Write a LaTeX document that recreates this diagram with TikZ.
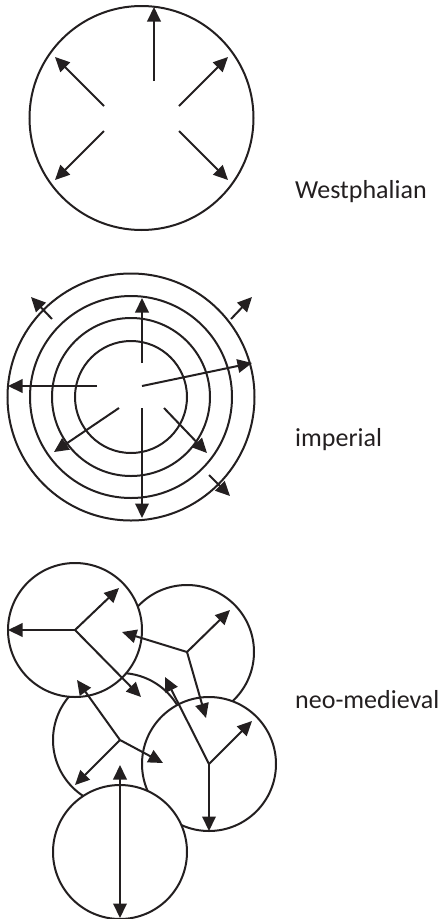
\documentclass[tikz,border=0pt]{standalone}
\usepackage{fontspec}
\setmainfont{Carlito}
\usetikzlibrary{arrows.meta}
\definecolor{ink}{HTML}{231F20}
\begin{document}
\begin{tikzpicture}[x=1pt,y=-1pt,
  ring/.style={draw=ink, line width=2pt, circle, inner sep=0pt},
  disc/.style={draw=ink, fill=white, line width=2pt, circle, inner sep=0pt, minimum size=134pt},
  arr/.style={-{Triangle[length=14.5pt,width=13.5pt]}, line width=2pt, draw=ink},
  darr/.style={{Triangle[length=14.5pt,width=13.5pt]}-{Triangle[length=14.5pt,width=13.5pt]}, line width=2pt, draw=ink},
  lbl/.style={anchor=base west, inner sep=0pt, font=\fontsize{26}{31}\selectfont, text=ink}]
\useasboundingbox (0,0) rectangle (445,919);

% ---------- Westphalian ----------
\node[ring, minimum size=224pt] (W) at (141.5,118) {};
\coordinate (w1s) at (154,81);  \coordinate (w1e) at (154,7);
\coordinate (w2s) at (104,106); \coordinate (w2e) at (55,57);
\coordinate (w3s) at (179,106); \coordinate (w3e) at (228,57);
\coordinate (w4s) at (104,131); \coordinate (w4e) at (55,180);
\coordinate (w5s) at (179,131); \coordinate (w5e) at (228,180);
\draw[arr] (w1s) -- (w1e);
\draw[arr] (w2s) -- (w2e);
\draw[arr] (w3s) -- (w3e);
\draw[arr] (w4s) -- (w4e);
\draw[arr] (w5s) -- (w5e);
\node[lbl] (tW) at (295,198) {Westphalian};

% ---------- imperial ----------
\node[ring, minimum size=247pt] (I1) at (131,397) {};
\node[ring, minimum size=202pt] (I2) at (131,397) {};
\node[ring, minimum size=158pt] (I3) at (131,397) {};
\node[ring, minimum size=112pt] (I4) at (131,397) {};
\coordinate (i1s) at (142,363); \coordinate (i1e) at (142,298);
\coordinate (i2s) at (97,386);  \coordinate (i2e) at (8,386);
\coordinate (i3s) at (142,386); \coordinate (i3e) at (252,363);
\coordinate (i4s) at (119,408); \coordinate (i4e) at (54,452);
\coordinate (i5s) at (142,408); \coordinate (i5e) at (142,518);
\coordinate (i6s) at (164,408); \coordinate (i6e) at (207,453);
\coordinate (i7s) at (52,319);  \coordinate (i7e) at (31,297);
\coordinate (i8s) at (231,319); \coordinate (i8e) at (252,297);
\coordinate (i9s) at (209,475); \coordinate (i9e) at (230,496);
\foreach \k in {1,...,9} {\draw[arr] (i\k s) -- (i\k e);}
\node[lbl] (tI) at (295,446) {imperial};

% ---------- neo-medieval ----------
\node[disc] (B) at (187,652) {};
\node[disc] (C) at (120,740) {};
\node[disc] (D) at (209,764) {};
\node[disc] (A) at (75,630) {};
\node[disc] (E) at (120,852) {};
% arrows from A
\coordinate (a1) at (8,630);   \coordinate (a2) at (119,588); \coordinate (a3) at (141,697);
\draw[arr] (A.center) -- (a1);
\draw[arr] (A.center) -- (a2);
\draw[arr] (A.center) -- (a3);
% arrows from B
\coordinate (b1) at (122,632); \coordinate (b2) at (230,610); \coordinate (b3) at (206,718);
\draw[arr] (B.center) -- (b1);
\draw[arr] (B.center) -- (b2);
\draw[arr] (B.center) -- (b3);
% arrows from C
\coordinate (c1) at (77,680);  \coordinate (c2) at (75,785);  \coordinate (c3) at (163,763);
\draw[arr] (C.center) -- (c1);
\draw[arr] (C.center) -- (c2);
\draw[arr] (C.center) -- (c3);
% arrows from D
\coordinate (d1) at (165,677); \coordinate (d2) at (252,721); \coordinate (d3) at (209,831);
\draw[arr] (D.center) -- (d1);
\draw[arr] (D.center) -- (d2);
\draw[arr] (D.center) -- (d3);
% arrow in E
\coordinate (e1) at (120,765); \coordinate (e2) at (120,918);
\draw[darr] (e1) -- (e2);
\node[lbl] (tN) at (295,708) {neo-medieval};
\end{tikzpicture}
\end{document}
